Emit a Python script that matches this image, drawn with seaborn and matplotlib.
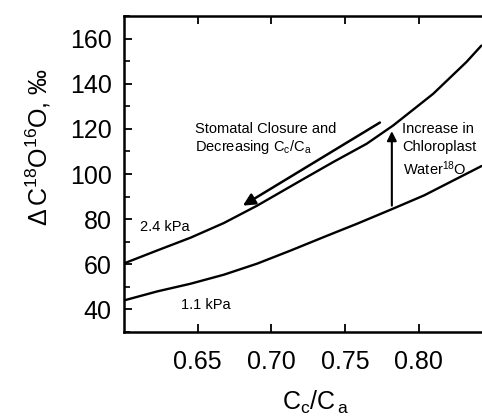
import matplotlib
matplotlib.use("Agg")
import matplotlib.pyplot as plt
import seaborn as sns
import pandas as pd
import numpy as np

# ── Data ──────────────────────────────────────────────────────────
cc_ca_hi = [0.600, 0.6224, 0.6452, 0.6678, 0.6904, 0.7221, 0.742, 0.7647, 0.7827, 0.8098, 0.8324, 0.8426]
delta_24kpa = [60.4, 66.1, 71.8, 78.3, 86.0, 97.9, 105.3, 113.4, 121.5, 135.5, 149.6, 156.9]

cc_ca_lo = [0.600, 0.6226, 0.6452, 0.6678, 0.6904, 0.7131, 0.7357, 0.7583, 0.781, 0.8036, 0.8426]
delta_11kpa = [44.0, 48.0, 51.4, 55.4, 60.3, 66.1, 72.1, 78.0, 84.2, 90.5, 103.5]

x_ticks = [0.65, 0.70, 0.75, 0.80]
y_ticks = [40, 60, 80, 100, 120, 140, 160]

# arrows: (x_start, y_start, x_end, y_end)
closure_arrow = (0.7737, 122.8, 0.6807, 86.0)
water_arrow = (0.7818, 86.0, 0.7818, 119.0)

df = pd.DataFrame({
    "cc_ca": cc_ca_hi + cc_ca_lo,
    "delta": delta_24kpa + delta_11kpa,
    "vpd": ["2.4 kPa"] * len(cc_ca_hi) + ["1.1 kPa"] * len(cc_ca_lo),
})

# ── Style ─────────────────────────────────────────────────────────
sns.set_style("ticks")
plt.rcParams.update({
    "font.family": ["Liberation Sans", "DejaVu Sans"],
    "mathtext.fontset": "custom",
    "mathtext.rm": "Liberation Sans",
    "mathtext.it": "Liberation Sans",
    "mathtext.bf": "Liberation Sans:bold",
    "text.color": "black",
    "axes.labelcolor": "black",
    "axes.edgecolor": "black",
    "xtick.color": "black",
    "ytick.color": "black",
})

fig = plt.figure(figsize=(4.82, 4.18), dpi=100)
ax = fig.add_axes([0.2573, 0.2057, 0.7427, 0.756])

sns.lineplot(data=df, x="cc_ca", y="delta", units="vpd", estimator=None,
             color="black", linewidth=1.7, ax=ax, legend=False)

ax.set_xlim(0.60, 0.843)
ax.set_ylim(30, 170)
ax.set_xticks(x_ticks)
ax.set_xticklabels([f"{t:.2f}" for t in x_ticks], fontsize=18)
ax.set_yticks(y_ticks)
ax.set_yticklabels([str(t) for t in y_ticks], fontsize=18)
ax.set_yticks(np.arange(30, 171, 10), minor=True)
ax.tick_params(axis="both", which="major", direction="in", length=6, width=1.3,
               top=True, pad=9)
ax.tick_params(axis="y", which="minor", direction="in", length=4, width=1.2)
ax.tick_params(axis="x", which="major", pad=13)
ax.spines["right"].set_visible(False)
for s in ["left", "bottom", "top"]:
    ax.spines[s].set_linewidth(1.8)

ax.set_xlabel("")
ax.set_ylabel("")
fig.text(0.655, 0.02, r"$\mathrm{C_c/C_{\,a}}$", fontsize=18, ha="center")
ax.text(-0.24, 0.585, r"$\Delta\,\mathrm{C^{18}O^{16}O}$, ‰", fontsize=18,
        rotation=90, ha="center", va="center", transform=ax.transAxes)

# arrows
ax.annotate("", xy=closure_arrow[2:], xytext=closure_arrow[:2],
            arrowprops=dict(arrowstyle="-|>", color="black", lw=1.8,
                            mutation_scale=18, shrinkA=0, shrinkB=0))
ax.annotate("", xy=water_arrow[2:], xytext=water_arrow[:2],
            arrowprops=dict(arrowstyle="-|>", color="black", lw=1.5,
                            mutation_scale=14, shrinkA=0, shrinkB=0))

# annotations
fs = 10.5
ax.text(0.648, 120, "Stomatal Closure and", fontsize=fs, va="center")
ax.text(0.648, 112, r"Decreasing $\mathrm{C_c/C_a}$", fontsize=fs, va="center")
ax.text(0.7886, 120, "Increase in", fontsize=fs, va="center")
ax.text(0.7886, 112, "Chloroplast", fontsize=fs, va="center")
ax.text(0.7895, 102.5, r"Water$\mathrm{^{18}O}$", fontsize=fs, va="center")
ax.text(0.611, 76.5, "2.4 kPa", fontsize=fs, va="center")
ax.text(0.639, 42, "1.1 kPa", fontsize=fs, va="center")

fig.savefig("out.png", dpi=100, facecolor="white")
